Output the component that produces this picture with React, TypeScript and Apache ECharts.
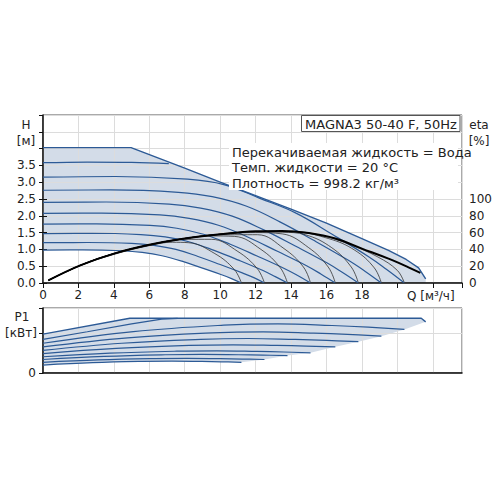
import React, { useEffect, useRef } from 'react';
import * as echarts from 'echarts';

// ---------- data ----------
const X_MAX = 23.65;
const X_TICK_LAST_LABEL = 18;

// Head curves H [m] vs Q [m3/h]
const H_MAX = [[0, 4.03], [4.97, 4.03], [8, 3.42], [10, 3.0], [12, 2.6], [14, 2.2], [16, 1.78], [18, 1.32], [19.5, 0.97], [20.5, 0.7], [21.2, 0.45], [21.6, 0.12]];
const H_2 = [[0, 3.58], [2.5, 3.6], [5, 3.59], [7.1, 3.55]];
const H_3 = [[0, 3.15], [4.08, 3.17], [8.16, 3.09], [10.2, 2.93], [12.24, 2.52], [14.28, 2.08], [16.32, 1.45], [18.36, 0.79], [19.38, 0.41], [20.4, 0]];
const H_4 = [[0, 2.76], [3.82, 2.77], [7.64, 2.7], [9.55, 2.57], [11.46, 2.29], [13.37, 1.82], [15.28, 1.27], [17.19, 0.69], [18.15, 0.36], [19.1, 0]];
const H_5 = [[0, 2.4], [3.56, 2.41], [7.12, 2.35], [8.9, 2.23], [10.68, 1.99], [12.46, 1.58], [14.24, 1.1], [16.02, 0.6], [16.91, 0.31], [17.8, 0]];
const H_6 = [[0, 2.07], [3.3, 2.08], [6.6, 2.03], [8.25, 1.925], [9.9, 1.72], [11.55, 1.37], [13.2, 0.95], [14.85, 0.52], [15.68, 0.27], [16.5, 0]];
const H_7 = [[0, 1.75], [3.02, 1.76], [6.04, 1.715], [7.55, 1.63], [9.06, 1.45], [10.57, 1.155], [12.08, 0.805], [13.59, 0.44], [14.35, 0.23], [15.1, 0]];
const H_8 = [[0, 1.47], [2.76, 1.48], [5.52, 1.44], [6.9, 1.37], [8.28, 1.22], [9.66, 0.97], [11.04, 0.68], [12.42, 0.37], [13.11, 0.19], [13.8, 0]];
const H_9 = [[0, 1.2], [2.5, 1.205], [5, 1.18], [6.25, 1.12], [7.5, 1.0], [8.75, 0.79], [10, 0.55], [11.25, 0.3], [11.9, 0.16], [12.5, 0]];
const H_10 = [[0, 0.98], [2.24, 0.985], [4.48, 0.96], [5.6, 0.91], [6.72, 0.81], [7.84, 0.65], [8.96, 0.45], [10.08, 0.245], [10.64, 0.13], [11.2, 0]];

// Efficiency curves eta [%]
const ETA_MAX = [[0.3, 3], [2.1, 21], [4, 35], [6, 45.5], [8, 53], [10, 58], [12, 61.5], [13.5, 62], [15, 59.5], [16.5, 53], [18, 41], [19.5, 29], [20.6, 19], [21.3, 12]];
const ETA_3 = [[0.3, 3], [2.1, 21], [4, 35], [6, 45.5], [8, 53], [10, 58], [12, 61.2], [14, 61.5], [16, 55], [17.4, 45], [18.9, 31], [20, 15], [20.4, 0]];
const ETA_4 = [[0.3, 3], [2.1, 21], [4, 35], [6, 45.5], [8, 53], [10, 58], [12, 61], [14, 61], [16.1, 53], [17.6, 39], [18.7, 18], [19.1, 0]];
const ETA_5 = [[0.3, 3], [2.1, 21], [4, 35], [6, 45.5], [8, 53], [10, 58], [12, 61], [13.5, 60.5], [14.8, 57.5], [16.3, 42], [17.4, 19], [17.8, 0]];
const ETA_6 = [[0.3, 3], [2.1, 21], [4, 35], [6, 45.3], [8, 53], [10, 58], [12, 60], [13.5, 58.5], [15, 42], [16.1, 19], [16.5, 0]];
const ETA_7 = [[0.3, 3], [2.1, 20.9], [4, 34.8], [6, 45.2], [8, 52.8], [10, 57.5], [12.1, 57.5], [13.6, 41], [14.7, 19], [15.1, 0]];
const ETA_8 = [[0.3, 3], [2.1, 20.8], [4, 34.6], [6, 45.2], [8, 52.6], [9.6, 56], [10.8, 55.5], [12.3, 40], [13.4, 18], [13.8, 0]];
const ETA_9 = [[0.3, 3], [2.1, 20.7], [4, 34.5], [6, 45], [8, 52], [9.5, 52], [11, 37.5], [12.1, 17], [12.5, 0]];
const ETA_10 = [[0.3, 3], [2.1, 20.5], [4, 34], [6, 44.5], [7.3, 48.5], [8.2, 48], [9.7, 35], [10.8, 16], [11.2, 0]];

// Power curves P1 [kW]
const P1_MAX = [[0, 0.098], [4.9, 0.138], [21.35, 0.138], [21.6, 0.129]];
const P1_2 = [[0, 0.085], [2.5, 0.104], [5, 0.124], [6.7, 0.136], [7.6, 0.138]];
const P1_3 = [[0, 0.075], [5.1, 0.1044], [10.2, 0.1206], [13.26, 0.124], [16.32, 0.1198], [18.36, 0.1156], [20.4, 0.11]];
const P1_4 = [[0, 0.066], [4.78, 0.0888], [9.55, 0.1013], [12.42, 0.104], [15.28, 0.1007], [17.19, 0.0974], [19.1, 0.093]];
const P1_5 = [[0, 0.057], [4.45, 0.075], [8.9, 0.0849], [11.57, 0.087], [14.24, 0.0846], [16.02, 0.0822], [17.8, 0.079]];
const P1_6 = [[0, 0.049], [4.13, 0.062], [8.25, 0.0695], [10.73, 0.071], [13.2, 0.0695], [14.85, 0.068], [16.5, 0.066]];
const P1_7 = [[0, 0.041], [3.78, 0.05], [7.55, 0.055], [9.82, 0.056], [12.08, 0.0545], [13.59, 0.053], [15.1, 0.051]];
const P1_8 = [[0, 0.034], [3.45, 0.0418], [6.9, 0.0461], [8.97, 0.047], [11.04, 0.0461], [12.42, 0.0452], [13.8, 0.044]];
const P1_9 = [[0, 0.027], [3.13, 0.033], [6.25, 0.0363], [8.13, 0.037], [10, 0.0361], [11.25, 0.0352], [12.5, 0.034]];
const P1_10 = [[0, 0.02], [2.8, 0.026], [5.6, 0.0293], [7.28, 0.03], [8.96, 0.0291], [10.08, 0.0282], [11.2, 0.027]];

const TITLE = 'MAGNA3 50-40 F, 50Hz';
const INFO_LINES = ['Перекачиваемая жидкость = Вода', 'Темп. жидкости = 20 °C', 'Плотность = 998.2 кг/м³'];

// ---------- styling ----------
const FONT = 'DejaVu Sans';
const TXT = '#222';
const BLUE = '#2c5a96';
const FILL = '#d3dce8';
const GRIDC = '#dcdcdc';
const BORDER = '#555';

const H_CURVES = [H_2, H_3, H_4, H_5, H_6, H_7, H_8, H_9, H_10];
const ETA_CURVES = [ETA_3, ETA_4, ETA_5, ETA_6, ETA_7, ETA_8, ETA_9, ETA_10];
const P1_CURVES = [P1_3, P1_4, P1_5, P1_6, P1_7, P1_8, P1_9, P1_10];

const last = (a: number[][]) => a[a.length - 1];
const FILL_H = [
  ...H_MAX,
  [last(H_MAX)[0], 0],
  ...H_10.slice().reverse(),
];
const FILL_P1 = [
  ...P1_MAX,
  ...P1_CURVES.map(last),
  ...P1_10.slice(0, -1).reverse(),
];

function polySeries(points: number[][], xi: number, yi: number) {
  return {
    type: 'custom',
    xAxisIndex: xi,
    yAxisIndex: yi,
    z: -1,
    silent: true,
    data: [[0, 0]],
    encode: { x: 0, y: 1 },
    renderItem: (_p: any, api: any) => ({
      type: 'polygon',
      shape: { points: points.map((p) => api.coord(p)) },
      style: { fill: FILL, stroke: 'none' },
    }),
  };
}

function lineSeries(data: number[][], xi: number, yi: number, color: string, width: number, smooth: number | boolean, opacity = 1) {
  return {
    type: 'line',
    xAxisIndex: xi,
    yAxisIndex: yi,
    data,
    showSymbol: false,
    symbol: 'none',
    smooth,
    silent: true,
    z: 3,
    lineStyle: { color, width, opacity },
  };
}

const axisLineDark = { show: true, lineStyle: { color: '#111', width: 1.5 } };
const splitLine = { show: true, lineStyle: { color: GRIDC, width: 1 } };

const option: any = {
  animation: false,
  textStyle: { fontFamily: FONT, color: TXT },
  grid: [
    { left: 43, top: 115, width: 419, height: 168, show: true, borderColor: BORDER, borderWidth: 1, backgroundColor: 'transparent' },
    { left: 43, top: 199, width: 419, height: 84, show: false },
    { left: 43, top: 308, width: 419, height: 65, show: true, borderColor: BORDER, borderWidth: 1, backgroundColor: 'transparent' },
  ],
  xAxis: [
    {
      gridIndex: 0, type: 'value', min: 0, max: X_MAX, interval: 2,
      axisLine: axisLineDark,
      axisTick: { show: true, length: 5, lineStyle: { color: '#111' } },
      axisLabel: { fontSize: 12, color: TXT, fontFamily: FONT, margin: 6, formatter: (v: number) => (v <= X_TICK_LAST_LABEL ? String(v) : '') },
      splitLine,
    },
    { gridIndex: 1, type: 'value', min: 0, max: X_MAX, show: false },
    {
      gridIndex: 2, type: 'value', min: 0, max: X_MAX, interval: 2,
      axisLine: axisLineDark,
      axisTick: { show: false },
      axisLabel: { show: false },
      splitLine,
    },
  ],
  yAxis: [
    {
      gridIndex: 0, type: 'value', min: 0, max: 5, interval: 0.5,
      axisLine: axisLineDark,
      axisTick: { show: true, length: 4, lineStyle: { color: '#111' } },
      axisLabel: { fontSize: 12, color: TXT, fontFamily: FONT, margin: 7, formatter: (v: number) => (v <= 3.5 ? v.toFixed(1) : '') },
      splitLine,
    },
    {
      gridIndex: 1, type: 'value', position: 'right', min: 0, max: 100, interval: 20,
      axisLine: { show: true, lineStyle: { color: BORDER, width: 1 } },
      axisTick: { show: true, length: 4, lineStyle: { color: '#111' } },
      axisLabel: { fontSize: 12, color: TXT, fontFamily: FONT, margin: 7 },
      splitLine: { show: false },
    },
    {
      gridIndex: 2, type: 'value', min: 0, max: 0.164, interval: 0.1,
      axisLine: axisLineDark,
      axisTick: { show: true, length: 4, lineStyle: { color: '#111' } },
      axisLabel: { fontSize: 12, color: TXT, fontFamily: FONT, margin: 7, formatter: (v: number) => (v === 0 ? '0' : '') },
      splitLine,
    },
  ],
  series: [
    polySeries(FILL_H, 0, 0),
    lineSeries(H_MAX, 0, 0, BLUE, 1.4, false),
    ...H_CURVES.map((c) => lineSeries(c, 0, 0, BLUE, 1.2, 0.4)),
    ...ETA_CURVES.map((c) => lineSeries(c, 1, 1, '#333', 1, 0.4, 0.8)),
    lineSeries(ETA_MAX, 1, 1, '#000', 2, 0.4),
    polySeries(FILL_P1, 2, 2),
    lineSeries(P1_MAX, 2, 2, BLUE, 1.4, false),
    lineSeries(P1_2, 2, 2, BLUE, 1.2, false),
    ...P1_CURVES.map((c) => lineSeries(c, 2, 2, BLUE, 1.2, 0.4)),
  ],
  graphic: [
    { type: 'rect', z: 100, shape: { x: 229, y: 143, width: 229, height: 47 }, style: { fill: '#fff' } },
    ...INFO_LINES.map((t, i) => ({
      type: 'text', z: 101, x: 232, y: 152 + i * 15.5,
      style: { text: t, font: `13px "${FONT}"`, fill: TXT, verticalAlign: 'middle' },
    })),
    { type: 'rect', z: 100, shape: { x: 301.5, y: 115.5, width: 158.5, height: 16 }, style: { fill: '#fff', stroke: BORDER, lineWidth: 1 } },
    { type: 'text', z: 101, x: 305, y: 124, style: { text: TITLE, font: `13px "${FONT}"`, fill: TXT, verticalAlign: 'middle' } },
    { type: 'text', z: 101, x: 26, y: 125, style: { text: 'H', font: `12px "${FONT}"`, fill: TXT, align: 'center', verticalAlign: 'middle' } },
    { type: 'text', z: 101, x: 26, y: 141, style: { text: '[м]', font: `12px "${FONT}"`, fill: TXT, align: 'center', verticalAlign: 'middle' } },
    { type: 'text', z: 101, x: 479, y: 125, style: { text: 'eta', font: `12px "${FONT}"`, fill: TXT, align: 'center', verticalAlign: 'middle' } },
    { type: 'text', z: 101, x: 479, y: 141, style: { text: '[%]', font: `12px "${FONT}"`, fill: TXT, align: 'center', verticalAlign: 'middle' } },
    { type: 'text', z: 101, x: 407, y: 296, style: { text: 'Q [м³/ч]', font: `12px "${FONT}"`, fill: TXT, verticalAlign: 'middle' } },
    { type: 'text', z: 101, x: 22, y: 317, style: { text: 'P1', font: `12px "${FONT}"`, fill: TXT, align: 'center', verticalAlign: 'middle' } },
    { type: 'text', z: 101, x: 21, y: 333, style: { text: '[кВт]', font: `12px "${FONT}"`, fill: TXT, align: 'center', verticalAlign: 'middle' } },
  ],
};

export default function App() {
  const ref = useRef<HTMLDivElement>(null);
  useEffect(() => {
    const chart = echarts.init(ref.current as HTMLDivElement, null, { renderer: 'svg' });
    chart.setOption(option);
    return () => chart.dispose();
  }, []);
  return <div ref={ref} style={{ position: 'absolute', left: 0, top: 0, width: 500, height: 500 }} />;
}
